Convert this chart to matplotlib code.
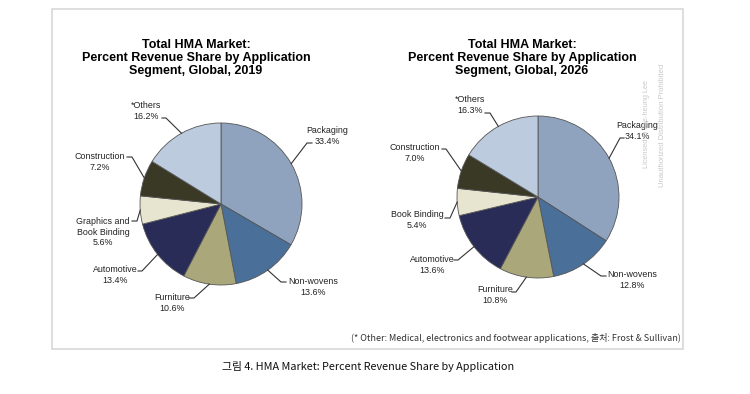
import numpy as np
import matplotlib
matplotlib.use('Agg')
import matplotlib.pyplot as plt
from matplotlib.patches import Rectangle

##### data
segments_2019 = ['Packaging', 'Non-wovens', 'Furniture', 'Automotive',
                 'Graphics and\nBook Binding', 'Construction', '*Others']
share_2019 = [33.4, 13.6, 10.6, 13.4, 5.6, 7.2, 16.2]

segments_2026 = ['Packaging', 'Non-wovens', 'Furniture', 'Automotive',
                 'Book Binding', 'Construction', '*Others']
share_2026 = [34.1, 12.8, 10.8, 13.6, 5.4, 7.0, 16.3]

years = [2019, 2026]

colors = ['#8fa3bf', '#4a6f98', '#aaa87a', '#282c56', '#e7e5cf', '#3a3926', '#bccbde']

W, H = 750, 394
def Y(y):  # picture rows -> axes y
    return H - y

##### layout (pixels of the picture): pie centre, radius, title centre, labels
pie_layout = [
    dict(center=(221, 204), r=81, title=(196, 58),
         # text centre, leader knee, dash length
         labels=[(327, 136, 307, 143, 5), (313, 287, 281, 282, 5),
                 (172, 303, 194, 298, -5), (115, 275, 142, 271, -4),
                 (103, 232, 137, 221, -5), (100, 162, 132, 157, -5),
                 (146, 111, 166, 118, -4)]),
    dict(center=(538, 197), r=81, title=(522, 58),
         labels=[(637, 131, 620, 138, 4), (632, 280, 601, 276, 5),
                 (495, 295, 516, 292, -4), (432, 265, 458, 260, -4),
                 (417, 220, 450, 218, -5), (415, 153, 446, 149, -4),
                 (470, 105, 490, 113, -5)]),
]

plt.rcParams['font.family'] = ['Liberation Sans', 'DejaVu Sans']

fig = plt.figure(figsize=(7.5, 3.94), dpi=100)
ax = fig.add_axes([0, 0, 1, 1])

# framed box
ax.add_patch(Rectangle((52, Y(349)), 631, 340, facecolor='white',
                       edgecolor='#d8d8d8', lw=1.2, zorder=0))

for lay, segs, vals, yr in zip(pie_layout, [segments_2019, segments_2026],
                               [share_2019, share_2026], years):
    cx, cy = lay['center'][0], Y(lay['center'][1])
    r = lay['r']
    wedges, _ = ax.pie(vals, colors=colors, startangle=90, counterclock=False,
                       center=(cx, cy), radius=r,
                       wedgeprops=dict(edgecolor='#555555', linewidth=0.6))

    tx, ty = lay['title']
    ax.text(tx, Y(ty), 'Total HMA Market:\nPercent Revenue Share by Application\n'
            'Segment, Global, %d' % yr, ha='center', va='center',
            fontsize=9, fontweight='bold', linespacing=1.12)

    for w, name, v, (lx, ly, kx, ky, dx) in zip(wedges, segs, vals, lay['labels']):
        ang = np.deg2rad((w.theta1 + w.theta2) / 2)
        rx = cx + r * np.cos(ang)
        ry = cy + r * np.sin(ang)
        ax.plot([rx, kx, kx + dx], [ry, Y(ky), Y(ky)], color='#333333', lw=0.8)
        ax.text(lx, Y(ly), '%s\n%.1f%%' % (name, v), ha='center', va='center',
                fontsize=6.4, color='#222222', linespacing=1.15)

# watermark
ax.text(646, Y(124), 'Licensed to Jae-heung Lee', rotation=90, ha='center',
        va='center', fontsize=5.3, color='#c8c8c8')
ax.text(663, Y(125), 'Unauthorized Distribution Prohibited', rotation=90,
        ha='center', va='center', fontsize=5.5, color='#c8c8c8')

ax.text(681, Y(338), '(* Other: Medical, electronics and footwear applications, 출처: Frost & Sullivan)',
        ha='right', va='center', fontsize=6.5, color='#333333',
        family=['Noto Sans CJK KR', 'DejaVu Sans'])
ax.text(368, Y(367), '그림 4. HMA Market: Percent Revenue Share by Application',
        ha='center', va='center', fontsize=7.8, color='#111111',
        family=['Noto Sans CJK KR', 'DejaVu Sans'])

ax.set_xlim(0, W)
ax.set_ylim(0, H)
ax.axis('off')

plt.savefig('out.png', dpi=100)
